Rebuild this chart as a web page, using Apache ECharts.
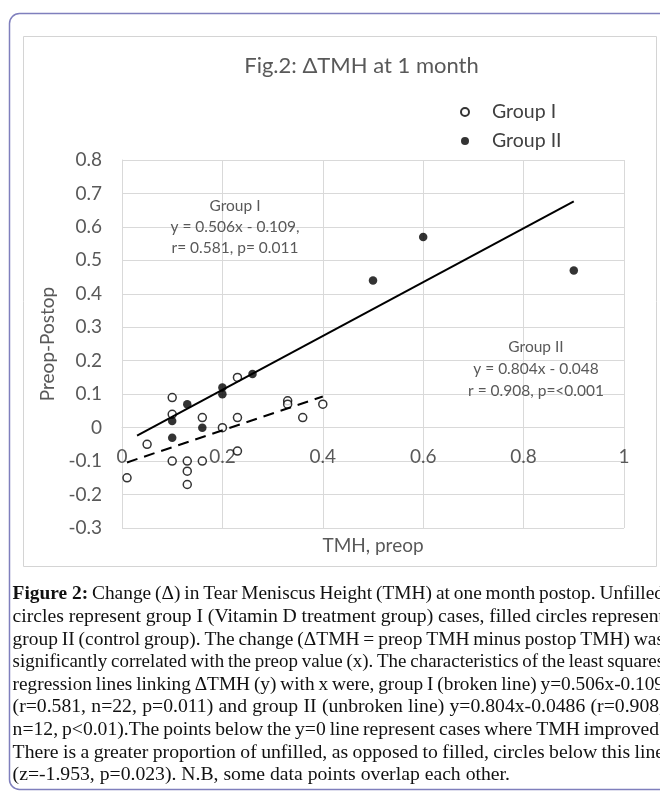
<!DOCTYPE html>
<html>
<head>
<meta charset="utf-8">
<script src="https://cdn.jsdelivr.net/npm/echarts@6/dist/echarts.min.js"></script>
<style>
html,body{margin:0;padding:0;background:#fff;}
#chart{width:660px;height:801px;}
</style>
</head>
<body>
<div id="chart"></div>
<script>
// ---- data ----
const titleText = 'Fig.2: \u0394TMH at 1 month';
const seriesNames = ['Group I', 'Group II'];
// Group I (Vitamin D treatment) : [TMH preop, preop-postop]
const groupI = [
  [0.01, -0.15], [0.05, -0.05], [0.10, 0.09], [0.10, 0.04], [0.10, -0.10],
  [0.13, -0.10], [0.13, -0.13], [0.13, -0.17], [0.16, 0.03], [0.16, -0.10],
  [0.20, 0.00], [0.23, 0.15], [0.23, 0.03], [0.23, -0.07], [0.33, 0.08],
  [0.33, 0.07], [0.36, 0.03], [0.40, 0.07]
];
// Group II (control)
const groupII = [
  [0.10, 0.02], [0.10, -0.03], [0.13, 0.07], [0.16, 0.00], [0.20, 0.12],
  [0.20, 0.10], [0.26, 0.16], [0.50, 0.44], [0.60, 0.57], [0.90, 0.47]
];
// regression line end points as drawn
const fitI = [[0.01, -0.104], [0.40, 0.093]];
const fitII = [[0.03, -0.024], [0.90, 0.676]];
const xAxisTicks = {min: 0, max: 1, interval: 0.2};
const yAxisTicks = {min: -0.3, max: 0.8, interval: 0.1};
const xAxisName = 'TMH, preop';
const yAxisName = 'Preop-Postop';
const annotI = ['Group I', 'y = 0.506x - 0.109,', 'r= 0.581, p= 0.011'];
const annotII = ['Group II', 'y = 0.804x - 0.048', 'r = 0.908, p=<0.001'];
const captionBold = 'Figure 2:';
const captionLines = [
  'Change (\u0394) in Tear Meniscus Height (TMH) at one month postop. Unfilled',
  'circles represent group I (Vitamin D treatment group) cases, filled circles represent',
  'group II (control group). The change (\u0394TMH = preop TMH minus postop TMH) was',
  'significantly correlated with the preop value (x). The characteristics of the least squares',
  'regression lines linking \u0394TMH (y) with x were, group I (broken line) y=0.506x-0.109',
  '(r=0.581, n=22, p=0.011) and group II (unbroken line) y=0.804x-0.0486 (r=0.908,',
  'n=12, p<0.01).The points below the y=0 line represent cases where TMH improved.',
  'There is a greater proportion of unfilled, as opposed to filled, circles below this line',
  '(z=-1.953, p=0.023). N.B, some data points overlap each other.'
];

// ---- chart ----
const FONT = 'Lato';
const GREY = '#595959';
const GRID = {left: 122, right: 36, top: 160, bottom: 273};
const H = 801, W = 660;
const chart = echarts.init(document.getElementById('chart'), null, {renderer: 'canvas'});

// caption justification (text block from CAP_L to CAP_R, last line left aligned)
const CAP_FS = 19.7, CAP_L = 12.6, CAP_R = 664;
const mctx = document.createElement('canvas').getContext('2d');
function tw(t, bold) {
  mctx.font = (bold ? 'bold ' : '') + CAP_FS + 'px "Liberation Serif"';
  return mctx.measureText(t).width;
}
const capRich = {b: {fontFamily: 'Liberation Serif', fontSize: CAP_FS, fontWeight: 'bold', color: '#111'}};
const capScale = [];
const capTexts = captionLines.map((line, i) => {
  const words = line.split(' ');
  let total = words.reduce((s, w) => s + tw(w, false), 0);
  let gaps = words.length - 1;
  let lead = '';
  if (i === 0) { total += tw(captionBold, true); lead = '{b|' + captionBold + '}'; gaps += 1; }
  const sp = tw(' ', false);
  const last = i === captionLines.length - 1;
  let gap = last ? sp : (CAP_R - CAP_L - total) / gaps;
  let sx = 1;
  if (gap < sp * 0.8) {
    gap = sp * 0.8;
    sx = (CAP_R - CAP_L) / (total + gaps * gap);
  }
  capScale.push(sx);
  capRich['g' + i] = {width: gap, fontSize: CAP_FS, fontFamily: 'Liberation Serif'};
  const sep = '{g' + i + '| }';
  return (lead ? lead + sep : '') + words.join(sep);
});

const graphics = [
  {type: 'rect', shape: {x: 9.5, y: 13.5, width: 700, height: 776, r: 10},
   style: {fill: 'none', stroke: '#7f7fbd', lineWidth: 1.5}, z: -10},
  {type: 'rect', shape: {x: 23.5, y: 36.5, width: 633, height: 530},
   style: {fill: '#fff', stroke: '#d4d4d4', lineWidth: 1}, z: -9},
  {type: 'text', x: 361.5, y: 66, z: 100,
   style: {text: titleText, fill: GREY, font: '22px ' + FONT, textAlign: 'center', textVerticalAlign: 'middle'}}
];
annotI.forEach((t, i) => graphics.push({type: 'text', x: 235, y: 206 + i * 21, z: 100,
  style: {text: t, fill: GREY, font: '15.5px ' + FONT, textAlign: 'center', textVerticalAlign: 'middle'}}));
annotII.forEach((t, i) => graphics.push({type: 'text', x: 536, y: 347 + i * 22, z: 100,
  style: {text: t, fill: GREY, font: '15.5px ' + FONT, textAlign: 'center', textVerticalAlign: 'middle'}}));
capTexts.forEach((t, i) => graphics.push({type: 'text', x: CAP_L, y: 594.3 + i * 22.6, z: 100,
  scaleX: capScale[i],
  style: {text: t, fill: '#111', fontFamily: 'Liberation Serif', fontSize: CAP_FS,
    verticalAlign: 'middle', align: 'left', rich: capRich}}));

// x axis sits on the y = 0 line
const gridH = H - GRID.top - GRID.bottom;
const xOffset = -(0 - yAxisTicks.min) / (yAxisTicks.max - yAxisTicks.min) * gridH;

const option = {
  animation: false,
  backgroundColor: '#fff',
  grid: Object.assign({containLabel: false}, GRID),
  legend: {
    data: seriesNames, orient: 'vertical', left: 460, top: 102, padding: 0,
    itemWidth: 8, itemHeight: 8, itemGap: 9,
    textStyle: {fontFamily: FONT, fontSize: 19.5, color: '#404040', padding: [0, 0, 0, 18]}
  },
  xAxis: {
    type: 'value', min: xAxisTicks.min, max: xAxisTicks.max, interval: xAxisTicks.interval,
    offset: xOffset,
    name: xAxisName, nameLocation: 'middle', nameGap: 109,
    nameTextStyle: {fontFamily: FONT, fontSize: 19, color: GREY},
    axisLine: {onZero: false, lineStyle: {color: '#d9d9d9'}},
    axisTick: {show: false},
    axisLabel: {fontFamily: FONT, fontSize: 19, color: GREY, margin: 20},
    splitLine: {show: true, lineStyle: {color: '#d9d9d9'}}
  },
  yAxis: {
    type: 'value', min: yAxisTicks.min, max: yAxisTicks.max, interval: yAxisTicks.interval,
    name: yAxisName, nameLocation: 'middle', nameGap: 54, nameRotate: 90,
    nameTextStyle: {fontFamily: FONT, fontSize: 19, color: GREY},
    axisLine: {show: true, onZero: false, lineStyle: {color: '#d9d9d9'}},
    axisTick: {show: false},
    axisLabel: {fontFamily: FONT, fontSize: 19, color: GREY, margin: 20},
    splitLine: {show: true, lineStyle: {color: '#d9d9d9'}}
  },
  series: [
    {name: seriesNames[0], type: 'scatter', data: groupI, symbol: 'circle', symbolSize: 8,
     itemStyle: {color: '#fff', borderColor: '#000', borderWidth: 1.5}, z: 3},
    {name: seriesNames[1], type: 'scatter', data: groupII, symbol: 'circle', symbolSize: 8.5,
     itemStyle: {color: '#000', borderColor: '#000', borderWidth: 0}, z: 3},
    {name: 'fit I', type: 'line', data: fitI, showSymbol: false, symbol: 'none',
     lineStyle: {color: '#000', width: 2, type: [11, 7]}, z: 4},
    {name: 'fit II', type: 'line', data: fitII, showSymbol: false, symbol: 'none',
     lineStyle: {color: '#000', width: 2}, z: 4}
  ],
  graphic: graphics
};
chart.setOption(option);
</script>
</body>
</html>
